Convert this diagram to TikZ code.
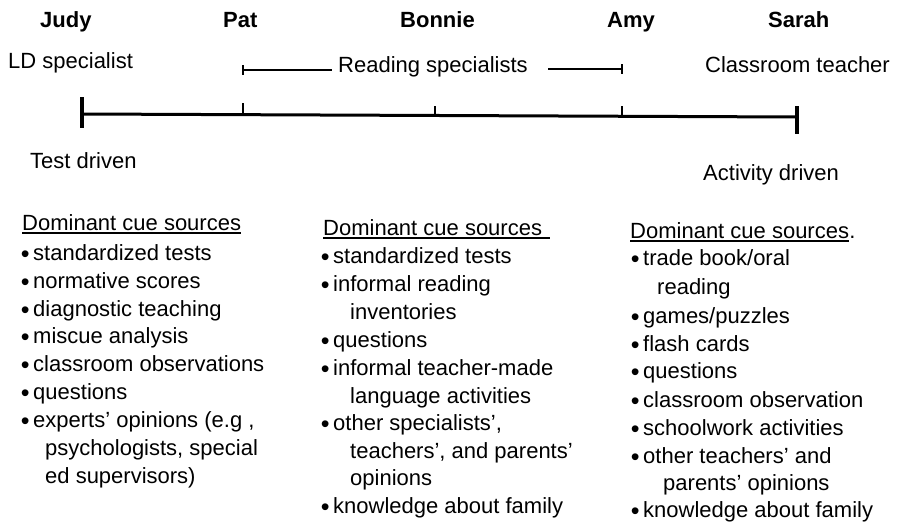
\documentclass[tikz,border=0pt]{standalone}
\usepackage{fontspec}
\setmainfont{Liberation Sans}
\newcommand\bul{\llap{{\fontsize{25}{25}\selectfont\raisebox{-2.5pt}{\textbullet}}\hspace{3.5pt}}}
\begin{document}
\begin{tikzpicture}[x=1pt,y=-1pt,
  txt/.style={inner sep=0pt, anchor=base west, font=\fontsize{22}{26}\selectfont},
  pname/.style={inner sep=0pt, anchor=base west, font=\fontsize{22}{26}\selectfont\bfseries},
  axisline/.style={line width=3pt},
  bigtick/.style={line width=3.5pt},
  smalltick/.style={line width=1.5pt},
  bracket/.style={line width=1.3pt},
  uline/.style={line width=1.2pt}]
\useasboundingbox (0,0) rectangle (904,527);

% names
\node[pname] (judy)   at (40,28)  {Judy};
\node[pname] (pat)    at (223,28) {Pat};
\node[pname] (bonnie) at (400,28) {Bonnie};
\node[pname] (amy)    at (607,28) {Amy};
\node[pname] (sarah)  at (768,28) {Sarah};

% roles
\node[txt] (ld) at (8,69) {LD specialist};
\node[txt] (rs) at (338,72) {Reading specialists};
\node[txt] (ct) at (705,72) {Classroom teacher};

% bracket for reading specialists
\coordinate (bl) at (243,70);
\coordinate (blin) at (332,70);
\coordinate (brin) at (548,69);
\coordinate (br) at (622,69);
\draw[bracket] (bl) -- (blin);
\draw[bracket] (brin) -- (br);
\draw[bracket] ([yshift=5pt]bl) -- ([yshift=-5pt]bl);
\draw[bracket] ([yshift=5pt]br) -- ([yshift=-5pt]br);

% axis
\coordinate (axL) at (82,114);
\coordinate (axR) at (797,117);
\coordinate (tPat) at (243,114.7);
\coordinate (tBon) at (435,115.5);
\coordinate (tAmy) at (622,116.3);
\draw[axisline] (axL) -- (axR);
\draw[bigtick] ([yshift=17pt]axL) -- ([yshift=-14pt]axL);
\draw[bigtick] ([yshift=11pt]axR) -- ([yshift=-17pt]axR);
\draw[smalltick] (tPat) -- ([yshift=12pt]tPat);
\draw[smalltick] (tBon) -- ([yshift=10pt]tBon);
\draw[smalltick] (tAmy) -- ([yshift=10pt]tAmy);

% poles
\node[txt] (test) at (30,168) {Test driven};
\node[txt] (act)  at (703,180) {Activity driven};

% column 1
\node[txt] (h1) at (22,230) {Dominant cue sources};
\draw[uline] ([yshift=-3pt]h1.base west) -- ([yshift=-3pt]h1.base east);
\node[txt] (a1) at (33,260) {\bul standardized tests};
\node[txt] (a2) at (33,288) {\bul normative scores};
\node[txt] (a3) at (33,316) {\bul diagnostic teaching};
\node[txt] (a4) at (33,343) {\bul miscue analysis};
\node[txt] (a5) at (33,371) {\bul classroom observations};
\node[txt] (a6) at (33,399) {\bul questions};
\node[txt] (a7) at (33,427) {\bul experts' opinions (e.g ,};
\node[txt] (a8) at (45,455) {psychologists, special};
\node[txt] (a9) at (45,483) {ed supervisors)};

% column 2
\node[txt] (h2) at (323,235) {Dominant cue sources};
\draw[uline] ([yshift=-3pt]h2.base west) -- ([yshift=-3pt,xshift=8pt]h2.base east);
\node[txt] (b1) at (333,263) {\bul standardized tests};
\node[txt] (b2) at (333,291) {\bul informal reading};
\node[txt] (b3) at (350,319) {inventories};
\node[txt] (b4) at (333,347) {\bul questions};
\node[txt] (b5) at (333,375) {\bul informal teacher-made};
\node[txt] (b6) at (350,403) {language activities};
\node[txt] (b7) at (333,430) {\bul other specialists',};
\node[txt] (b8) at (350,458) {teachers', and parents'};
\node[txt] (b9) at (350,485) {opinions};
\node[txt] (b10) at (333,513) {\bul knowledge about family};

% column 3
\node[txt] (h3) at (630,238) {Dominant cue sources};
\draw[uline] ([yshift=-3pt]h3.base west) -- ([yshift=-3pt]h3.base east);
\node[txt] (h3p) at (h3.base east) {.};
\node[txt] (c1) at (643,265) {\bul trade book/oral};
\node[txt] (c2) at (657,294) {reading};
\node[txt] (c3) at (643,323) {\bul games/puzzles};
\node[txt] (c4) at (643,351) {\bul flash cards};
\node[txt] (c5) at (643,378) {\bul questions};
\node[txt] (c6) at (643,407) {\bul classroom observation};
\node[txt] (c7) at (643,435) {\bul schoolwork activities};
\node[txt] (c8) at (643,463) {\bul other teachers' and};
\node[txt] (c9) at (663,490) {parents' opinions};
\node[txt] (c10) at (643,517) {\bul knowledge about family};
\end{tikzpicture}
\end{document}
